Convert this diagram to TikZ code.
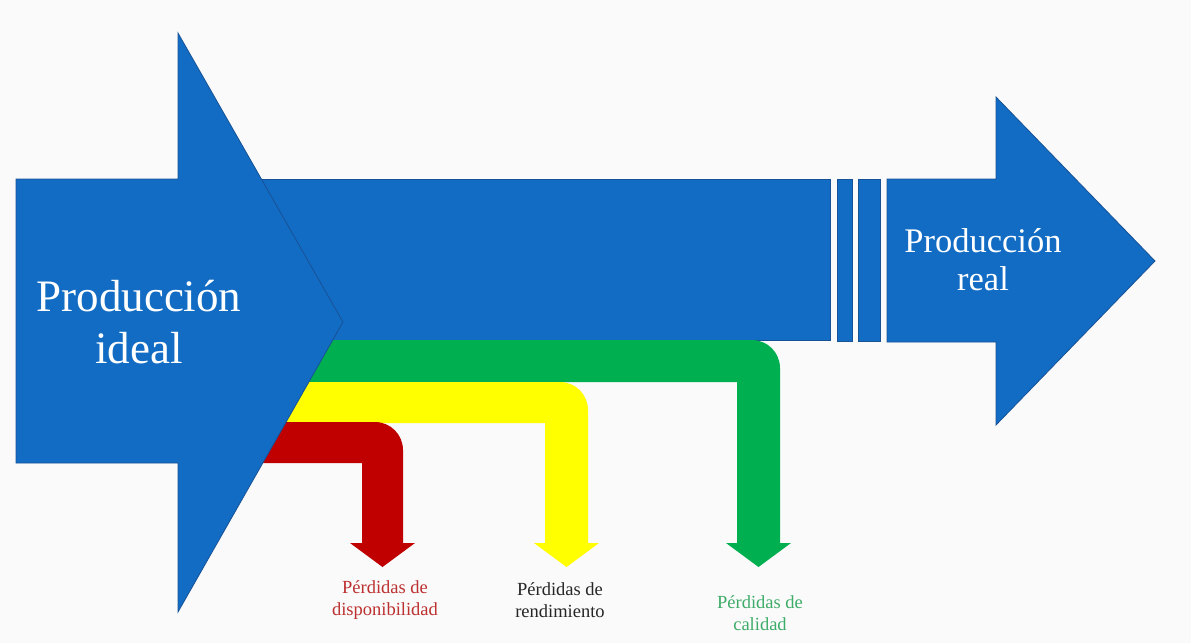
\documentclass[tikz,border=0pt]{standalone}
\usepackage{fontspec}
\setmainfont{Liberation Serif}
\usetikzlibrary{positioning}
\definecolor{prod_blue}{RGB}{18, 108, 196}
\definecolor{prod_edge}{RGB}{24, 82, 150}
\definecolor{loss_green}{RGB}{0, 176, 80}
\definecolor{loss_yellow}{RGB}{255, 255, 0}
\definecolor{loss_red}{RGB}{192, 0, 0}
\definecolor{text_red}{RGB}{188, 48, 48}
\definecolor{text_gray}{RGB}{38, 38, 38}
\definecolor{text_green}{RGB}{62, 172, 104}
\definecolor{paper}{RGB}{250, 250, 250}

\begin{document}
\begin{tikzpicture}[
    x=1pt, y=-1pt,
    prod/.style={
        fill=prod_blue,
        draw=prod_edge,
        line width=0.8pt,
        line join=miter
    },
    band/.style={
        fill=#1
    },
    gap/.style={
        fill=white
    },
    big_label/.style={
        text=white,
        align=center,
        font=\fontsize{45}{52}\selectfont
    },
    mid_label/.style={
        text=white,
        align=center,
        font=\fontsize{34.5}{38}\selectfont
    },
    loss_label/.style={
        text=#1,
        align=center,
        font=\fontsize{18.5}{22}\selectfont
    },
]
\useasboundingbox (0,0) rectangle (1191,643);
\fill[paper] (0,0) rectangle (1191,643);

% long bar behind the ideal arrow
\filldraw[prod] (170,179) rectangle (830,340);
\filldraw[prod] (837,179) rectangle (852,341);
\filldraw[prod] (858,179) rectangle (880,341);

% loss bands
\fill[band=loss_green] (200,340) -- (752,340) arc[start angle=-90, end angle=0, radius=28]
    -- (780,543) -- (791,543) -- (758.5,567) -- (726,543) -- (737,543) -- (737,382) -- (200,382) -- cycle;
\fill[band=loss_yellow] (200,382) -- (560,382) arc[start angle=-90, end angle=0, radius=28]
    -- (588,543) -- (599,543) -- (566.5,567) -- (534,543) -- (545,543) -- (545,423) -- (200,423) -- cycle;
\fill[band=loss_red] (200,422) -- (375,422) arc[start angle=-90, end angle=0, radius=28]
    -- (403,543) -- (415,543) -- (382.5,567) -- (350,543) -- (362,543) -- (362,463) -- (200,463) -- cycle;

% ideal and real arrows
\filldraw[prod] (16,179) -- (178,179) -- (178,33) -- (343,322) -- (178,612) -- (178,463) -- (16,463) -- cycle;
\filldraw[prod] (887,179) -- (996,179) -- (996,97) -- (1155,261) -- (996,425) -- (996,342) -- (887,342) -- cycle;

\node[big_label] (ideal) at (139,322) {Producción\\ideal};
\node[mid_label] (real) at (983,260) {Producción\\real};

\node[loss_label=text_red] (disp) at (385,600) {Pérdidas de\\disponibilidad};
\node[loss_label=text_gray] (rend) at (560,600) {Pérdidas de\\rendimiento};
\node[loss_label=text_green] (cal) at (760,613) {Pérdidas de\\calidad};

\end{tikzpicture}
\end{document}
